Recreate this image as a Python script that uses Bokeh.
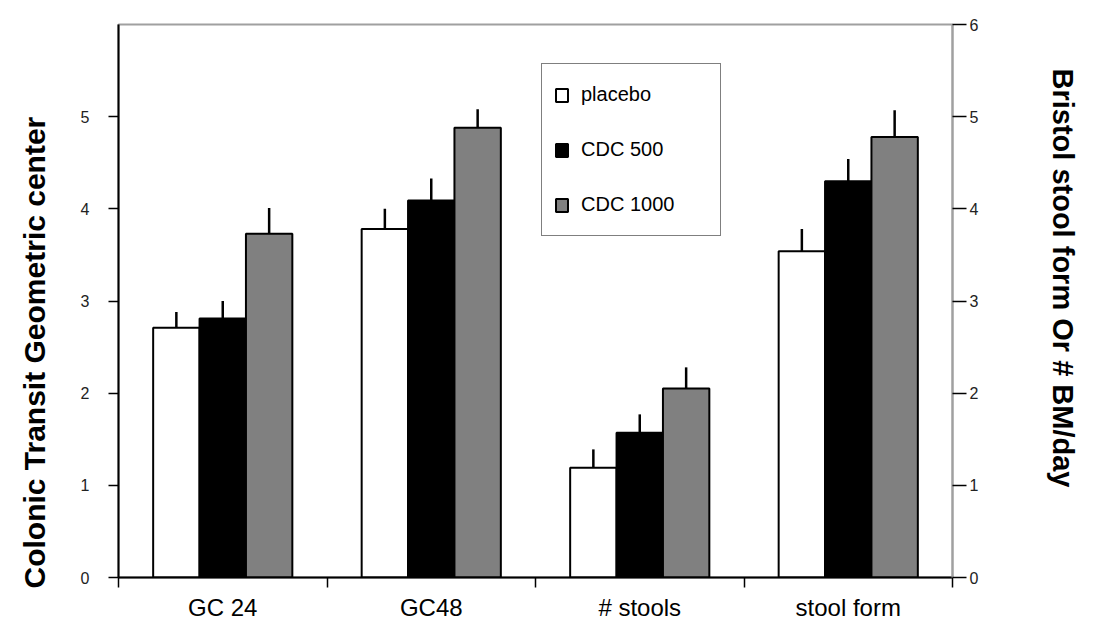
from bokeh.plotting import figure
from bokeh.models import (Range1d, LinearAxis, FixedTicker, Legend, LegendItem,
                          ColumnDataSource, Title)
from bokeh.embed import file_html
from bokeh.resources import INLINE

# ---- data ----
categories = ["GC 24", "GC48", "# stools", "stool form"]
series = ["placebo", "CDC 500", "CDC 1000"]
placebo = [2.71, 3.78, 1.19, 3.54]
placebo_err = [0.17, 0.22, 0.20, 0.24]
cdc500 = [2.81, 4.09, 1.57, 4.30]
cdc500_err = [0.19, 0.24, 0.20, 0.24]
cdc1000 = [3.73, 4.88, 2.05, 4.78]
cdc1000_err = [0.28, 0.20, 0.23, 0.29]
left_ticks = [0, 1, 2, 3, 4, 5]
right_ticks = [0, 1, 2, 3, 4, 5, 6]
left_title = "Colonic Transit  Geometric center"
right_title = "Bristol stool form Or # BM/day"

# ---- style ----
FONT = "Liberation Sans"
fills = ["white", "black", "#808080"]
bar_w = 0.2225

p = figure(width=1090, height=625,
           x_range=Range1d(0, len(categories)), y_range=Range1d(0, 6),
           output_backend="svg", toolbar_location=None,
           min_border_left=118, min_border_right=138,
           min_border_top=24, min_border_bottom=48)
p.xgrid.visible = False
p.ygrid.visible = False
p.outline_line_color = "#a0a0a0"
p.outline_line_width = 2
p.background_fill_color = "white"
p.border_fill_color = "white"

# bottom axis: labels at group centers, ticks at group boundaries
xa = p.xaxis[0]
centers = [i + 0.5 for i in range(len(categories))]
xa.ticker = FixedTicker(ticks=centers, minor_ticks=list(range(len(categories) + 1)))
xa.major_label_overrides = {c: name for c, name in zip(centers, categories)}
xa.major_tick_line_color = None
xa.major_tick_out = 0
xa.major_tick_in = 0
xa.minor_tick_out = 10
xa.minor_tick_in = 0
xa.minor_tick_line_color = "black"
xa.minor_tick_line_width = 1.5
xa.axis_line_color = "black"
xa.axis_line_width = 2
xa.major_label_standoff = 6
xa.major_label_text_font = FONT
xa.major_label_text_font_size = "24px"
xa.major_label_text_color = "black"

# left axis
ya = p.yaxis[0]
ya.ticker = FixedTicker(ticks=left_ticks)
ya.minor_tick_line_color = None
ya.major_tick_out = 10
ya.major_tick_in = 0
ya.major_tick_line_color = "black"
ya.major_tick_line_width = 1.5
ya.axis_line_color = "black"
ya.axis_line_width = 2
ya.major_label_standoff = 19
ya.major_label_text_font = FONT
ya.major_label_text_font_size = "16px"
ya.major_label_text_color = "#222222"

# right axis
p.extra_y_ranges = {"right": Range1d(0, 6)}
ra = LinearAxis(y_range_name="right", ticker=FixedTicker(ticks=right_ticks))
ra.minor_tick_line_color = None
ra.major_tick_out = 14
ra.major_tick_in = 0
ra.major_tick_line_color = "black"
ra.major_tick_line_width = 1.5
ra.axis_line_color = "#a0a0a0"
ra.axis_line_width = 2
ra.major_label_standoff = 3
ra.major_label_text_font = FONT
ra.major_label_text_font_size = "16px"
ra.major_label_text_color = "#222222"
p.add_layout(ra, "right")


def spacer(width, range_name="default"):
    """A blank axis (white tick, empty label) that only reserves room."""
    return LinearAxis(y_range_name=range_name, ticker=FixedTicker(ticks=[3]),
                      major_label_overrides={3: ""}, major_label_standoff=0,
                      major_tick_out=width, major_tick_in=0,
                      axis_line_color=None, major_tick_line_color="white",
                      minor_tick_line_color=None)


p.add_layout(spacer(26), "left")
p.add_layout(spacer(64, "right"), "right")

# axis titles, placed as in the original (not centred on the frame)
p.add_layout(Title(text=left_title, align="left", offset=-11,
                   vertical_align="middle", standoff=0,
                   text_font=FONT, text_font_style="bold",
                   text_font_size="30px", text_color="black"), "left")
p.add_layout(Title(text=right_title, align="left", offset=44,
                   vertical_align="middle", standoff=0,
                   text_font=FONT, text_font_style="bold",
                   text_font_size="29px", text_color="black"), "right")

# bars and error bars
values = [placebo, cdc500, cdc1000]
errors = [placebo_err, cdc500_err, cdc1000_err]
items = []
for k, (name, vals, errs, fc) in enumerate(zip(series, values, errors, fills)):
    off = (k - 1) * bar_w
    xs = [c + off for c in centers]
    src = ColumnDataSource(dict(x=xs, top=vals, up=[v + e for v, e in zip(vals, errs)]))
    r = p.vbar(x="x", top="top", bottom=0, width=bar_w, source=src,
               fill_color=fc, line_color="black", line_width=2)
    p.segment(x0="x", y0="top", x1="x", y1="up", source=src,
              line_color="black", line_width=2.5)
    items.append(LegendItem(label=name, renderers=[r]))

legend = Legend(items=items, location=(423, 341),
                orientation="vertical",
                border_line_color="black", border_line_width=1.5,
                background_fill_color="white", background_fill_alpha=1,
                padding=12, spacing=18, margin=0,
                glyph_width=15, glyph_height=16,
                label_height=37, label_width=127, label_standoff=12,
                label_text_font=FONT, label_text_font_size="20px",
                label_text_color="black")
p.add_layout(legend, "center")

open("out.html", "w").write(file_html(p, INLINE))
